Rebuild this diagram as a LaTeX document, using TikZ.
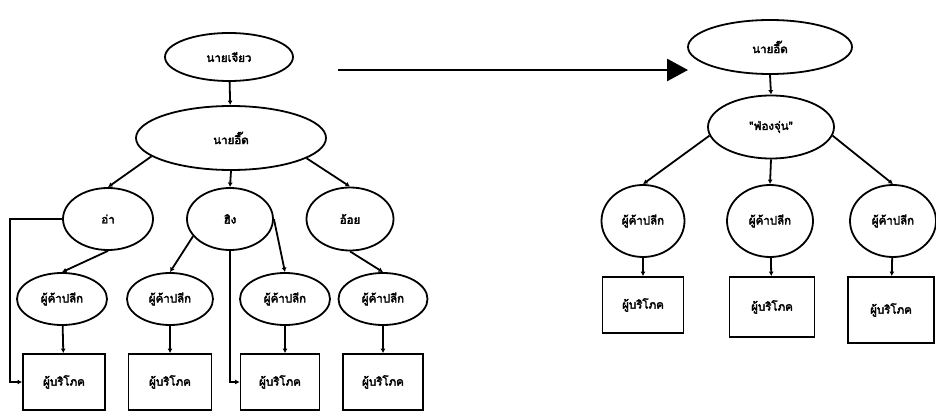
\documentclass[tikz,border=0pt]{standalone}
\usepackage{fontspec}
\newfontfamily\thai[Script=Thai,AutoFakeBold=3]{Loma}
\usetikzlibrary{shapes.geometric,arrows.meta}
\begin{document}
\begin{tikzpicture}[x=1pt,y=-1pt,
  line width=1.8pt,
  label font/.style={font=\thai\bfseries\fontsize{11.5}{13}\selectfont},
  oval/.style={ellipse, draw, inner sep=0pt, label font},
  box/.style={rectangle, draw, inner sep=0pt, label font},
  link/.style={-{Latex[length=4.5pt,width=5pt]}},
  bigarrow/.style={line width=2.8pt,-{Triangle[length=21pt,width=22pt]}},
]
\useasboundingbox (0,0) rectangle (936,417);

% ---------- left tree ----------
\node[oval, minimum width=128pt, minimum height=48pt] (jiao) at (229,57) {นายเจียว};
\node[oval, minimum width=190pt, minimum height=64pt] (eed) at (231,138) {นายอี๊ด};

\node[oval, minimum width=90pt, minimum height=62pt] (ah)   at (108,219) {อ่า};
\node[oval, minimum width=86pt, minimum height=62pt] (hing) at (230,219) {ฮิง};
\node[oval, minimum width=87pt, minimum height=63pt] (oy)   at (350,219) {อ้อย};

\node[oval, minimum width=90pt, minimum height=52pt] (c1) at (62,299)  {ผู้ค้าปลีก};
\node[oval, minimum width=86pt, minimum height=52pt] (c2) at (170,299) {ผู้ค้าปลีก};
\node[oval, minimum width=90pt, minimum height=52pt] (c3) at (285,299) {ผู้ค้าปลีก};
\node[oval, minimum width=89pt, minimum height=52pt] (c4) at (383,299) {ผู้ค้าปลีก};

\node[box, minimum width=82pt, minimum height=56pt] (b1) at (64,382)  {ผู้บริโภค};
\node[box, minimum width=83pt, minimum height=56pt] (b2) at (170,382) {ผู้บริโภค};
\node[box, minimum width=79pt, minimum height=56pt] (b3) at (280,382) {ผู้บริโภค};
\node[box, minimum width=80pt, minimum height=56pt] (b4) at (383,382) {ผู้บริโภค};

\coordinate (bend) at (10,219);

\draw[link] (jiao) -- (eed);
\draw[link] (eed.193) -- (ah.north);
\draw[link] (eed.south) -- (hing.north);
\draw[link] (eed.345) -- (oy.north);

\draw[link] (ah.south) -- (c1.north);
\draw[link] (ah.west) -- (bend) |- (b1.west);
\draw[link] (hing.205) -- (c2.north);
\draw[link] (hing.east) -- (c3.north);
\draw[link] (hing.south) |- (b3.west);
\draw[link] (oy.south) -- (c4.north);

\draw[link] (c1) -- (b1);
\draw[link] (c2) -- (b2);
\draw[link] (c3.south) -- (c3.south |- b3.north);
\draw[link] (c4) -- (b4);

% ---------- transition arrow ----------
\coordinate (from) at (338,70);
\coordinate (to) at (688,70);
\draw[bigarrow] (from) -- (to);

% ---------- right tree ----------
\node[oval, minimum width=164pt, minimum height=54pt] (eed2) at (770,47) {นายอี๊ด};
\node[oval, minimum width=126pt, minimum height=63pt] (fong) at (771,127) {"ฟ่องจุ่น"};

\node[oval, minimum width=83pt, minimum height=72pt] (r1) at (643,221) {ผู้ค้าปลีก};
\node[oval, minimum width=86pt, minimum height=72pt] (r2) at (770,221) {ผู้ค้าปลีก};
\node[oval, minimum width=86pt, minimum height=72pt] (r3) at (893,221) {ผู้ค้าปลีก};

\node[box, minimum width=81pt, minimum height=56pt] (rb1) at (643,305) {ผู้บริโภค};
\node[box, minimum width=85pt, minimum height=60pt] (rb2) at (772,307) {ผู้บริโภค};
\node[box, minimum width=86pt, minimum height=66pt] (rb3) at (891,310) {ผู้บริโภค};

\draw[link] (eed2.south) -- (fong.north);
\draw[link] (fong.188) -- (r1.north);
\draw[link] (fong.south) -- (r2.north);
\draw[link] (fong.352) -- (r3.north);

\draw[link] (r1) -- (rb1);
\draw[link] (r2) -- (rb2);
\draw[link] (r3) -- (rb3);
\end{tikzpicture}
\end{document}
